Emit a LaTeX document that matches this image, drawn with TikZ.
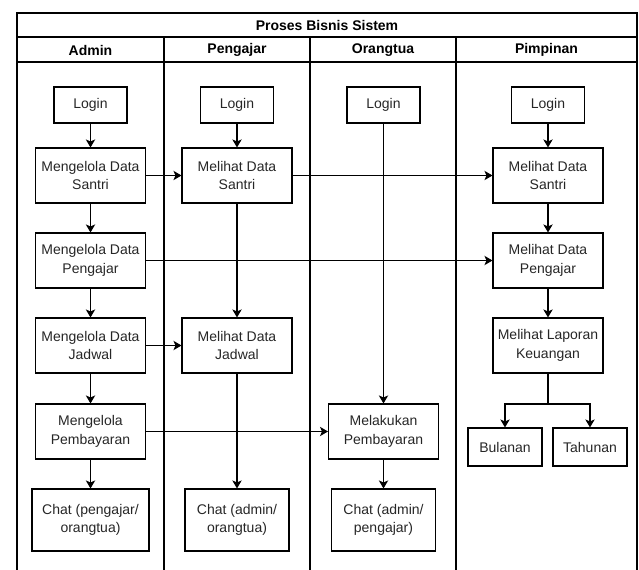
\documentclass[tikz,border=0pt]{standalone}
\usepackage{fontspec}
\setmainfont{Liberation Sans}
\usepackage{tikz}
\usetikzlibrary{arrows.meta}

\begin{document}
\begin{tikzpicture}[x=0.75pt, y=-0.75pt,
    lane/.style={draw, line width=0.9pt},
    proc/.style={draw, line width=0.8pt, align=center, inner sep=0pt, text=black!85,
        minimum width=82.5pt, minimum height=41.25pt, font=\fontsize{10.5}{13.8}\selectfont},
    loginbox/.style={proc, minimum width=54.75pt, minimum height=27pt},
    chatbox/.style={proc, minimum width=78pt, minimum height=46.5pt},
    periodbox/.style={proc, minimum width=55.5pt, minimum height=28.5pt},
    head/.style={font=\bfseries\fontsize{10.5}{12}\selectfont},
    flow/.style={-{Stealth[length=6pt,width=7pt,inset=1.5pt]}, line width=0.8pt}]
\useasboundingbox (0,0) rectangle (639,570);
\draw[lane] (17,580) -- (17,13) -- (637,13) -- (637,580);
\draw[lane] (17,37) -- (637,37) (17,62) -- (637,62);
\draw[lane] (164,37) -- (164,580) (310,37) -- (310,580) (456,37) -- (456,580);
\node[head] (title) at (327,25) {Proses Bisnis Sistem};
\node[head] (hadmin) at (90.5,50) {Admin};
\node[head] (hpengajar) at (237,50) {Pengajar};
\node[head] (horangtua) at (383,50) {Orangtua};
\node[head] (hpimpinan) at (546.5,50) {Pimpinan};

\node[loginbox] (alogin) at (90.5,105) {Login};
\node[proc] (asantri) at (90.5,175.5) {Mengelola Data\\Santri};
\node[proc] (apengajar) at (90.5,260.5) {Mengelola Data\\Pengajar};
\node[proc] (ajadwal) at (90.5,345.5) {Mengelola Data\\Jadwal};
\node[proc] (abayar) at (90.5,431.5) {Mengelola\\Pembayaran};
\node[chatbox, minimum width=87.75pt] (achat) at (90.5,520) {Chat (pengajar/\\orangtua)};

\node[loginbox] (plogin) at (237,105) {Login};
\node[proc] (psantri) at (237,175.5) {Melihat Data\\Santri};
\node[proc] (pjadwal) at (237,345.5) {Melihat Data\\Jadwal};
\node[chatbox] (pchat) at (237,520) {Chat (admin/\\orangtua)};

\node[loginbox] (ologin) at (383.5,105) {Login};
\node[proc] (obayar) at (383.5,431.5) {Melakukan\\Pembayaran};
\node[chatbox] (ochat) at (383.5,520) {Chat (admin/\\pengajar)};

\node[loginbox] (mlogin) at (548,105) {Login};
\node[proc] (msantri) at (548,175.5) {Melihat Data\\Santri};
\node[proc] (mpengajar) at (548,260.5) {Melihat Data\\Pengajar};
\node[proc] (mlaporan) at (548,345.5) {Melihat Laporan\\Keuangan};
\node[periodbox] (bulanan) at (505,447) {Bulanan};
\node[periodbox] (tahunan) at (590,447) {Tahunan};
\coordinate (split) at (548,404);

\draw[flow] (alogin) -- (asantri);
\draw[flow] (asantri) -- (apengajar);
\draw[flow] (apengajar) -- (ajadwal);
\draw[flow] (ajadwal) -- (abayar);
\draw[flow] (abayar) -- (achat);
\draw[flow] (plogin) -- (psantri);
\draw[flow] (psantri) -- (pjadwal);
\draw[flow] (pjadwal) -- (pchat);
\draw[flow] (ologin) -- (obayar);
\draw[flow] (obayar) -- (ochat);
\draw[flow] (mlogin) -- (msantri);
\draw[flow] (msantri) -- (mpengajar);
\draw[flow] (mpengajar) -- (mlaporan);
\draw[line width=0.8pt] (mlaporan) -- (split);
\draw[flow] (split) -| (bulanan);
\draw[flow] (split) -| (tahunan);

\draw[flow] (asantri) -- (psantri);
\draw[flow] (psantri) -- (msantri);
\draw[flow] (apengajar) -- (mpengajar);
\draw[flow] (ajadwal) -- (pjadwal);
\draw[flow] (abayar) -- (obayar);
\end{tikzpicture}
\end{document}
